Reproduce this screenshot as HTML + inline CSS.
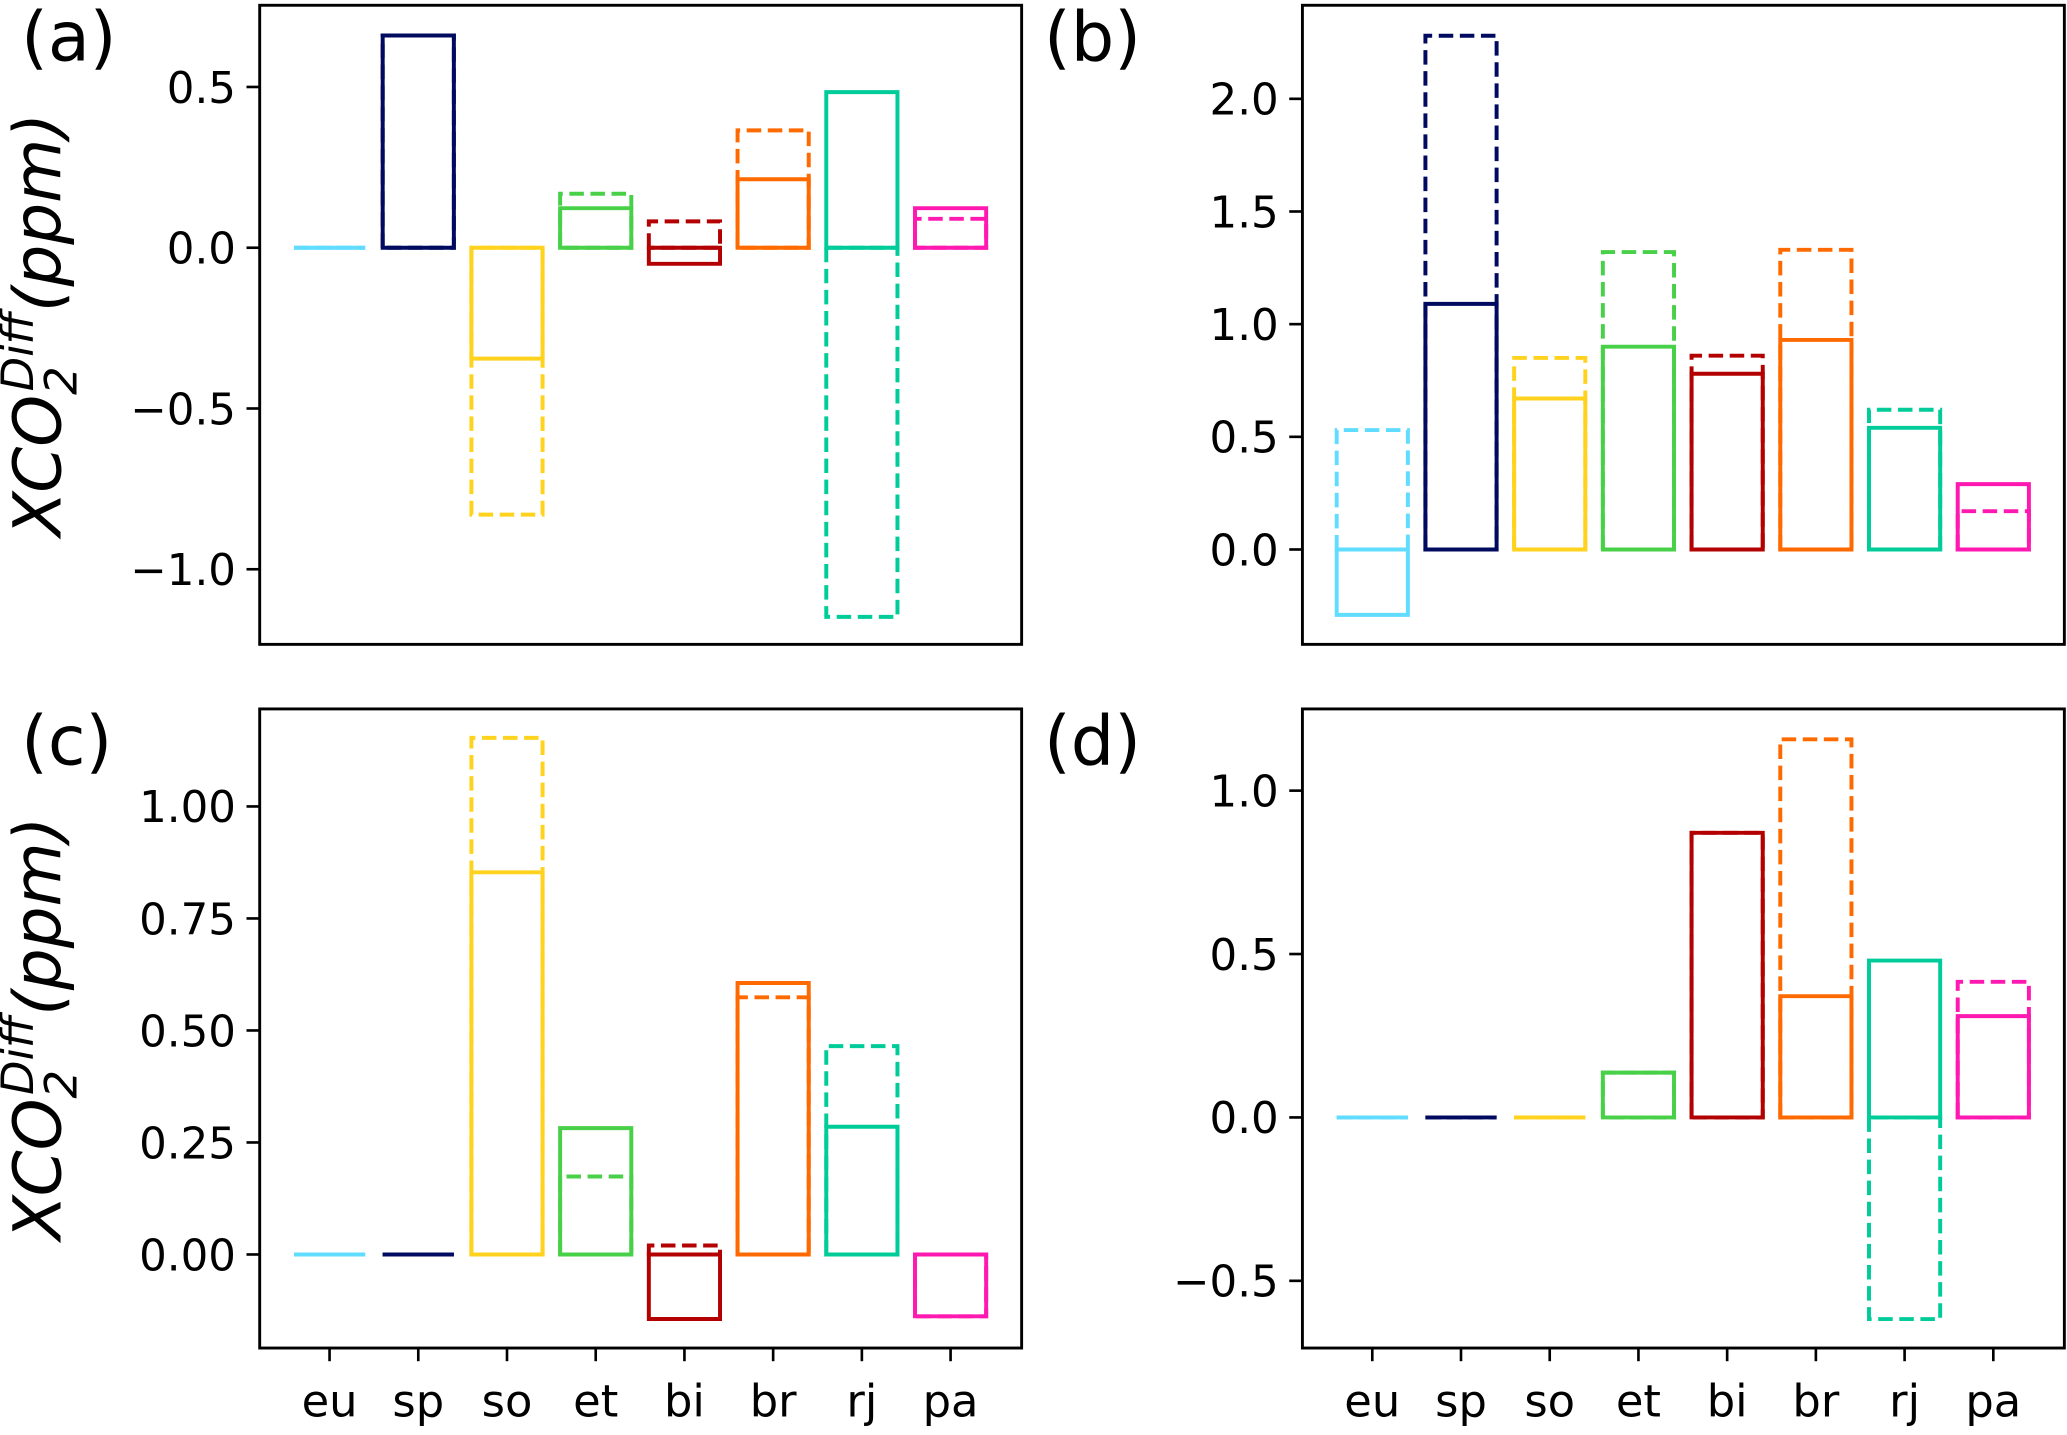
<!DOCTYPE html>
<html><head><meta charset="utf-8"><style>
html,body{margin:0;padding:0;background:#fff}
svg{display:block}
text{font-family:"DejaVu Sans","Liberation Sans",sans-serif;fill:#000}
</style></head><body>
<svg id="chart" width="2067" height="1435" viewBox="0 0 1568 1089" preserveAspectRatio="none" xmlns="http://www.w3.org/2000/svg"></svg>
<script>
const categories = ["eu","sp","so","et","bi","br","rj","pa"];
const colors = ["#5fdcff","#000a5f","#ffd21e","#48d048","#b30000","#ff6a00","#00cc99","#ff19b0"];
const solidA = [0, 0.66, -0.345, 0.123, -0.05, 0.213, 0.484, 0.123];
const dashA  = [0, 0.66, -0.83, 0.168, 0.082, 0.365, -1.148, 0.09];
const solidB = [-0.29, 1.09, 0.67, 0.90, 0.78, 0.93, 0.54, 0.29];
const dashB  = [0.53, 2.28, 0.85, 1.32, 0.86, 1.33, 0.62, 0.17];
const solidC = [0, 0, 0.853, 0.282, -0.144, 0.606, 0.285, -0.138];
const dashC  = [0, 0, 1.153, 0.174, 0.02, 0.574, 0.465, -0.138];
const solidD = [0, 0, 0, 0.137, 0.871, 0.371, 0.48, 0.31];
const dashD  = [0, 0, 0, 0.137, 0.871, 1.157, -0.617, 0.415];
const ticksA = [0.5, 0.0, -0.5, -1.0];
const ticksB = [0.0, 0.5, 1.0, 1.5, 2.0];
const ticksC = [0.00, 0.25, 0.50, 0.75, 1.00];
const ticksD = [-0.5, 0.0, 0.5, 1.0];

const NS = "http://www.w3.org/2000/svg";
const svg = document.getElementById("chart");
function mk(tag, attrs, parent){ const e=document.createElementNS(NS,tag); for(const k in attrs) e.setAttribute(k,attrs[k]); (parent||svg).appendChild(e); return e; }
function boxPath(x,w,y0,y1){ return "M"+x+","+y0+"L"+x+","+y1+"L"+(x+w)+","+y1+"L"+(x+w)+","+y0+"Z"; }

const panels = [
 {id:"a", x0:197, y0:4, zeroY:188, ppu:244, solid:solidA, dash:dashA, ticks:ticksA, dec:1, ylabel:true, xlabels:false},
 {id:"b", x0:988, y0:4, zeroY:417, ppu:171, solid:solidB, dash:dashB, ticks:ticksB, dec:1, ylabel:false, xlabels:false},
 {id:"c", x0:197, y0:538, zeroY:952, ppu:340, solid:solidC, dash:dashC, ticks:ticksC, dec:2, ylabel:true, xlabels:true},
 {id:"d", x0:988, y0:538, zeroY:848, ppu:248, solid:solidD, dash:dashD, ticks:ticksD, dec:1, ylabel:false, xlabels:true}
];
const W=578, H=485, step=67.3, bw=54;

panels.forEach(p=>{
  const g = mk("g",{});
  
  
  const yS = v => p.zeroY - v*p.ppu;
  const xS = i => p.x0 + 53 + i*step;
  p.dash.forEach((v,i)=>{
    const r = mk("path",{d:boxPath(xS(i)-bw/2,bw,yS(0),yS(v)),fill:"none",stroke:colors[i],"stroke-width":3,"stroke-dasharray":"11,5"},g);
    
    
  });
  p.solid.forEach((v,i)=>{
    const r = mk("path",{d:boxPath(xS(i)-bw/2,bw,yS(0),yS(v)),fill:"none",stroke:colors[i],"stroke-width":3},g);
    
    
  });
  const frame = mk("rect",{x:p.x0,y:p.y0,width:W,height:H,fill:"none",stroke:"#000","stroke-width":2.2},g);
  
  
  p.ticks.forEach(t=>{
    const y=yS(t);
    mk("line",{x1:p.x0-10,x2:p.x0,y1:y,y2:y,stroke:"#000","stroke-width":2},g);
    const lab = (t<0?"\u2212":"")+Math.abs(t).toFixed(p.dec);
    const tx = mk("text",{x:p.x0-18,y:y+12,"font-size":33,"text-anchor":"end"},g);
    tx.textContent=lab;
    
    
  });
  if(p.xlabels){
    categories.forEach((c,i)=>{
      mk("line",{x1:xS(i),x2:xS(i),y1:p.y0+H,y2:p.y0+H+10,stroke:"#000","stroke-width":2},g);
      const tx = mk("text",{x:xS(i),y:p.y0+H+52,"font-size":34,"text-anchor":"middle"},g);
      tx.textContent=c;
      
      
    });
  }
  const pl = mk("text",{x:p.id==="a"||p.id==="c"?16:792,y:p.y0+42,"font-size":52},g);
  pl.textContent="("+p.id+")";
  
  
  if(p.ylabel){
    const cy = p.y0+H/2;
    const yt = mk("text",{x:0,y:0,"font-size":50,"font-style":"italic","text-anchor":"middle",transform:"translate(46,"+cy+") rotate(-90)"},g);
    
    
    yt.innerHTML='XCO<tspan font-size="34" dy="12">2</tspan><tspan font-size="34" dy="-33" dx="-19">Diff</tspan><tspan dy="21">(ppm)</tspan>';
  }
});
</script>
</body></html>
